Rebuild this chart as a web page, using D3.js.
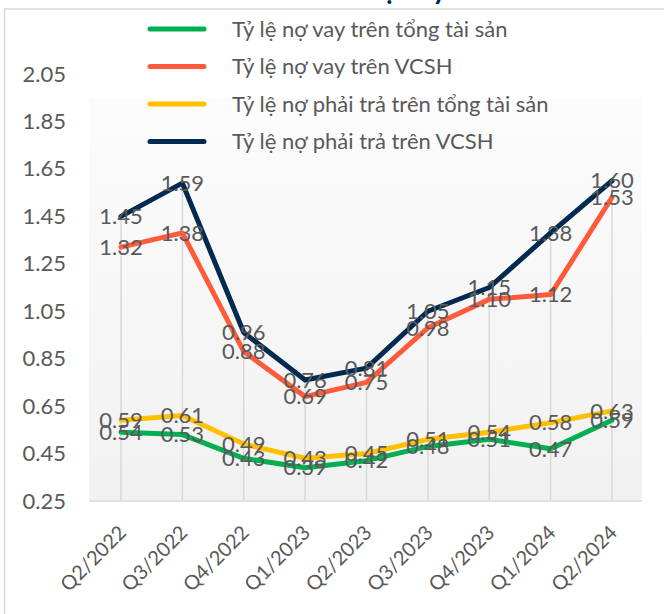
<!DOCTYPE html>
<html>
<head>
<meta charset="utf-8">
<script src="https://cdn.jsdelivr.net/npm/d3@7"></script>
<style>
  body { margin: 0; background: #fff; }
  svg { display: block; font-family: Lato, "Open Sans", sans-serif; }
</style>
</head>
<body>
<svg id="chart" width="664" height="614"></svg>
<script>
const quarters = ["Q2/2022", "Q3/2022", "Q4/2022", "Q1/2023", "Q2/2023", "Q3/2023", "Q4/2023", "Q1/2024", "Q2/2024"];
const loanToAssets = [0.54, 0.53, 0.43, 0.39, 0.42, 0.48, 0.51, 0.47, 0.59];
const loanToEquity = [1.32, 1.38, 0.88, 0.69, 0.75, 0.98, 1.10, 1.12, 1.53];
const liabToAssets = [0.59, 0.61, 0.49, 0.43, 0.45, 0.51, 0.54, 0.58, 0.63];
const liabToEquity = [1.45, 1.59, 0.96, 0.76, 0.81, 1.05, 1.15, 1.38, 1.60];
const seriesNames = [
    "Tỷ lệ nợ vay trên tổng tài sản",
    "Tỷ lệ nợ vay trên VCSH",
    "Tỷ lệ nợ phải trả trên tổng tài sản",
    "Tỷ lệ nợ phải trả trên VCSH"
];
const yTicks = [0.25, 0.45, 0.65, 0.85, 1.05, 1.25, 1.45, 1.65, 1.85, 2.05];

const colors = ["#00b050", "#ff5b3a", "#ffc000", "#002a4f"];
const allSeries = [loanToAssets, loanToEquity, liabToAssets, liabToEquity];

const svg = d3.select("#chart");
const textColor = "#595959";
const plot = {left: 89, right: 642, top: 98, bottom: 501};

// gradient for plot area
const defs = svg.append("defs");
const grad = defs.append("linearGradient")
    .attr("id", "plotGrad")
    .attr("x1", 0).attr("y1", 0).attr("x2", 0).attr("y2", 1);
grad.append("stop").attr("offset", "0%").attr("stop-color", "#fcfcfc");
grad.append("stop").attr("offset", "100%").attr("stop-color", "#f1f1f1");

// chart border (only left and top are inside the picture)
svg.append("rect")
    .attr("x", 4.5).attr("y", 9)
    .attr("width", 720).attr("height", 700)
    .attr("fill", "none")
    .attr("stroke", "#d9d9d9")
    .attr("stroke-width", 1.5);

// title, cut off by the top edge
svg.append("text")
    .attr("x", 447).attr("y", -1)
    .attr("text-anchor", "end")
    .attr("font-size", 28)
    .attr("font-weight", "bold")
    .attr("fill", "#002a4f")
    .text("Cơ cấu nợ vay");

svg.append("rect")
    .attr("x", plot.left).attr("y", plot.top)
    .attr("width", plot.right - plot.left)
    .attr("height", plot.bottom - plot.top)
    .attr("fill", "url(#plotGrad)");

const x = d3.scalePoint().domain(quarters).range([121, 612]);
const y = d3.scaleLinear().domain([0.25, 2.05]).range([501, 74]);

// drop lines
svg.append("g")
    .selectAll("line")
    .data(quarters)
    .join("line")
    .attr("x1", d => x(d)).attr("x2", d => x(d))
    .attr("y1", (d, i) => y(d3.max(allSeries, s => s[i])))
    .attr("y2", y(0.25))
    .attr("stroke", "#d9d9d9")
    .attr("stroke-width", 1.5);

// category axis line
svg.append("line")
    .attr("x1", plot.left).attr("x2", plot.right)
    .attr("y1", y(0.25)).attr("y2", y(0.25))
    .attr("stroke", "#d9d9d9")
    .attr("stroke-width", 1.5);

// y axis
const yAxis = svg.append("g")
    .attr("transform", "translate(66,0)")
    .call(d3.axisLeft(y).tickValues(yTicks).tickFormat(d3.format(".2f")).tickSize(0).tickPadding(0));
yAxis.select(".domain").remove();
yAxis.selectAll("text")
    .attr("font-size", 22)
    .attr("font-family", "Lato, 'Open Sans', sans-serif")
    .attr("fill", textColor);

// x axis
const xAxis = svg.append("g")
    .attr("transform", `translate(0,${y(0.25)})`)
    .call(d3.axisBottom(x).tickSize(0));
xAxis.select(".domain").remove();
xAxis.selectAll("text")
    .attr("x", 0).attr("y", 0)
    .attr("dy", "0.35em")
    .attr("text-anchor", "end")
    .attr("transform", "translate(1,28) rotate(-45)")
    .attr("font-size", 20)
    .attr("font-family", "Lato, 'Open Sans', sans-serif")
    .attr("fill", textColor);

// lines
const line = d3.line()
    .x((d, i) => x(quarters[i]))
    .y(d => y(d));

svg.append("g")
    .selectAll("path")
    .data(allSeries)
    .join("path")
    .attr("d", line)
    .attr("fill", "none")
    .attr("stroke", (d, i) => colors[i])
    .attr("stroke-width", 5)
    .attr("stroke-linejoin", "round")
    .attr("stroke-linecap", "round");

// data labels, centred on the points
const labels = svg.append("g");
allSeries.forEach((s, k) => {
    labels.append("g")
        .selectAll("text")
        .data(s)
        .join("text")
        .attr("x", (d, i) => x(quarters[i]))
        .attr("y", d => y(d))
        .attr("dy", "0.35em")
        .attr("text-anchor", "middle")
        .attr("font-size", 22)
        .attr("fill", textColor)
        .text(d => d.toFixed(2));
});

// legend
const legend = svg.append("g")
    .selectAll("g")
    .data(seriesNames)
    .join("g")
    .attr("transform", (d, i) => `translate(150,${29 + i * 37.5})`);
legend.append("line")
    .attr("x1", 0).attr("x2", 54)
    .attr("stroke", (d, i) => colors[i])
    .attr("stroke-width", 5)
    .attr("stroke-linecap", "round");
legend.append("text")
    .attr("x", 82)
    .attr("dy", "0.35em")
    .attr("font-size", 22)
    .attr("fill", textColor)
    .text(d => d);
</script>
</body>
</html>
